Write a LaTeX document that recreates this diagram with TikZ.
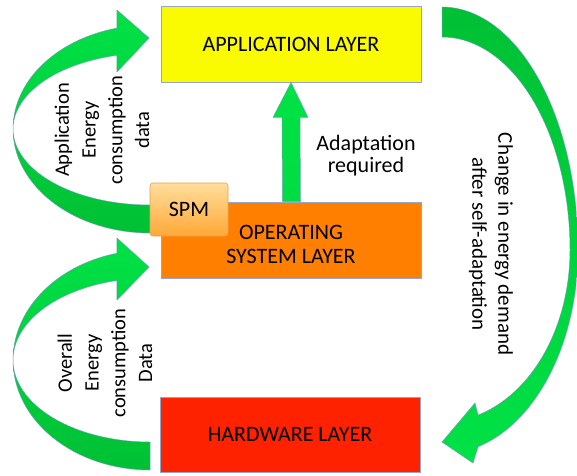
\documentclass[tikz,border=0pt]{standalone}
\usepackage{fontspec}
\setmainfont{Carlito}
\usetikzlibrary{calc}
\definecolor{appyellow}{RGB}{250,250,0}
\definecolor{osorange}{RGB}{255,128,0}
\definecolor{hwred}{RGB}{255,34,0}
\definecolor{boxline}{RGB}{150,165,200}
\definecolor{arrowline}{RGB}{110,150,190}
\definecolor{gbright}{RGB}{0,226,70}
\definecolor{gdark}{RGB}{0,192,52}
\definecolor{spmtop}{RGB}{255,222,155}
\definecolor{spmbot}{RGB}{255,168,55}
\definecolor{spmline}{RGB}{225,160,90}
\begin{document}
\begin{tikzpicture}[x=1pt,y=-1pt,
  box/.style={draw=boxline, line width=0.8pt, minimum width=260pt, minimum height=76pt, inner sep=0pt},
  lbl/.style={font=\fontsize{22}{23.5}\selectfont, align=center, inner sep=0pt},
  rot/.style={font=\fontsize{20.5}{26.7}\selectfont, align=center, inner sep=0pt},
  garrow/.style={draw=arrowline, draw opacity=0.8, line width=0.5pt, line join=miter},
  spmbox/.style={draw=spmline, line width=0.6pt, rounded corners=3pt, top color=spmtop, bottom color=spmbot, minimum width=78pt, minimum height=53pt, inner sep=0pt, font=\fontsize{22}{24}\selectfont}
]
\useasboundingbox (0,0) rectangle (577,475);
\fill[white] (0,0) rectangle (577,475);
\clip (0,0) rectangle (577,475);

% layer boxes
\node[box, fill=appyellow, font=\fontsize{22}{24}\selectfont] (app) at (291,44) {APPLICATION LAYER};
\node[box, fill=osorange] (os) at (291.5,240) {};
\node[lbl] (ostext) at (291,244.5) {OPERATING\\SYSTEM LAYER};
\node[box, fill=hwred, minimum height=75pt, font=\fontsize{22}{24}\selectfont] (hw) at (290,434.5) {HARDWARE LAYER};

% top-left curved arrow (SPM -> application layer)
\path[garrow, top color=gbright, bottom color=gdark]
  plot[domain=90:256, samples=60, variable=\t] ({150+137*cos(\t)},{129+104*sin(\t)})
  -- (117,10) -- (149,38) -- (117,72)
  -- plot[domain=256:90, samples=60, variable=\t] ({150+137*cos(\t)},{129+76*sin(\t)})
  -- cycle;

% bottom-left curved arrow (hardware -> OS layer)
\path[garrow, top color=gbright, bottom color=gdark]
  plot[domain=90:256, samples=60, variable=\t] ({150+137*cos(\t)},{360+110*sin(\t)})
  -- (117,238) -- (149,267) -- (117,300)
  -- plot[domain=256:90, samples=60, variable=\t] ({150+137*cos(\t)},{360+82*sin(\t)})
  -- cycle;

% right curved arrow (application -> hardware)
\path[garrow, top color=gdark, bottom color=gbright]
  plot[domain=-90:0, samples=60, variable=\t] ({442+136*cos(\t)},{250+243*sin(\t)})
  -- plot[domain=0:74.65, samples=50, variable=\t] ({442+136*cos(\t)},{250+204*sin(\t)})
  -- (473,463) -- (442,442) -- (475,403)
  -- plot[domain=73.67:0, samples=50, variable=\t] ({442+128*cos(\t)},{250+172*sin(\t)})
  -- plot[domain=0:-90, samples=60, variable=\t] ({442+128*cos(\t)},{250+213*sin(\t)})
  -- cycle;

% middle straight arrow (OS -> application)
\path[garrow, top color=gbright, bottom color=gbright!85!gdark]
  ($(os.north)+(-9,0)$) -- ($(app.south)+(-9,35)$) -- ($(app.south)+(-18,35)$)
  -- (app.south) -- ($(app.south)+(17,35)$) -- ($(app.south)+(9,35)$)
  -- ($(os.north)+(9,0)$) -- cycle;

% SPM
\node[spmbox] (spm) at (189,209.5) {SPM};

% labels
\node[lbl, font=\fontsize{22}{22}\selectfont] (adapt) at (366,156) {Adaptation\\required};
\node[rot, rotate=90] (appdata) at (102,130) {Application\\Energy\\consumption\\data};
\node[rot, rotate=90] (hwdata) at (105,363) {Overall\\Energy\\consumption\\Data};
\node[rot, rotate=-90, font=\fontsize{21}{26}\selectfont] (change) at (491,244) {Change in energy demand\\after self-adaptation};
\end{tikzpicture}
\end{document}
